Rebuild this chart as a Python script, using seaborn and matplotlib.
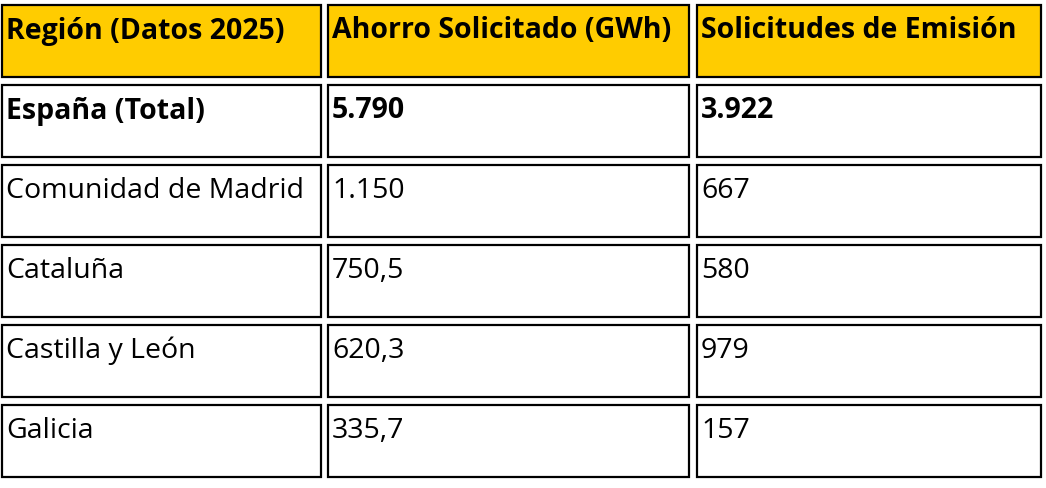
import matplotlib.pyplot as plt
import seaborn as sns
from matplotlib.patches import Rectangle

sns.set_theme(style="white")
plt.rcParams['font.family'] = ['Open Sans', 'DejaVu Sans']

headers = ['Región (Datos 2025)', 'Ahorro Solicitado (GWh)', 'Solicitudes de Emisión']
regiones = ['España (Total)', 'Comunidad de Madrid', 'Cataluña', 'Castilla y León', 'Galicia']
ahorro = ['5.790', '1.150', '750,5', '620,3', '335,7']
solicitudes = ['3.922', '667', '580', '979', '157']

# cell geometry in pixels
col_x = [(2, 321), (328, 689), (697, 1041)]
row_top = [6, 86, 166, 246, 326, 406]
row_h = 72

W, H = 1046, 489
fig = plt.figure(figsize=(W / 100, H / 100), dpi=100)
ax = fig.add_axes([0, 0, 1, 1])
ax.set_xlim(0, W)
ax.set_ylim(H, 0)
ax.axis('off')

rows = [headers] + [list(r) for r in zip(regiones, ahorro, solicitudes)]
for i, row in enumerate(rows):
    y0 = row_top[i]
    bold = i <= 1
    face = '#FFCC00' if i == 0 else 'white'
    for j, txt in enumerate(row):
        x0, x1 = col_x[j]
        ax.add_patch(Rectangle((x0, y0), x1 - x0, row_h, facecolor=face,
                               edgecolor='black', linewidth=1.6))
        ax.text(x0 + 4, y0 + 25, txt, fontsize=20.5, va='center', ha='left',
                fontweight='bold' if bold else 'normal', color='black')

fig.savefig('out.png', dpi=100)
